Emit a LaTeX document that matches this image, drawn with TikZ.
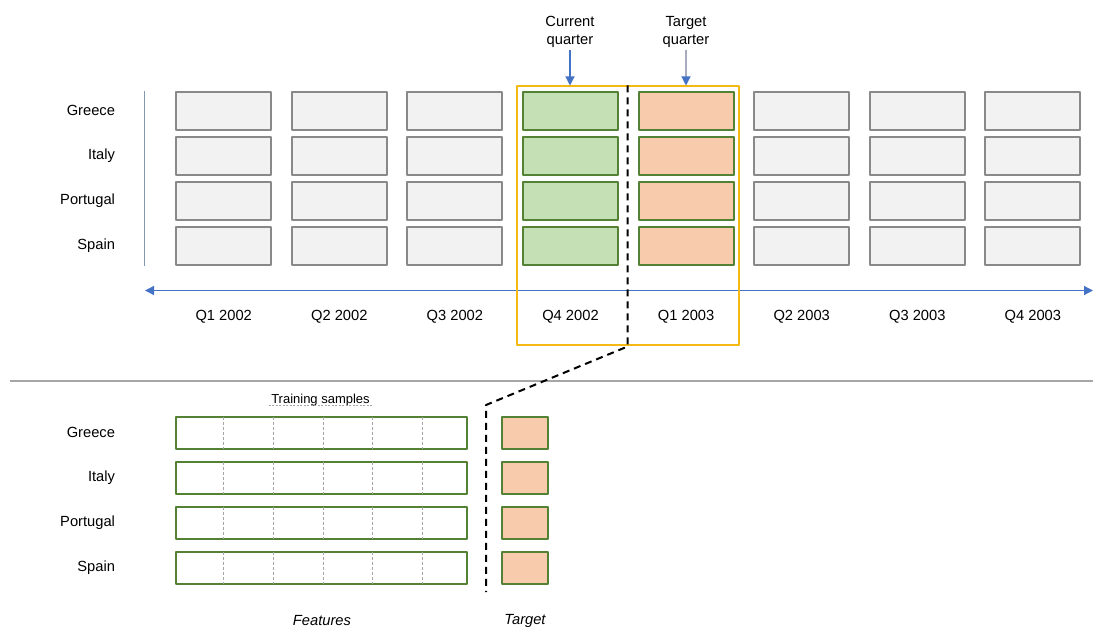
\documentclass[tikz,border=0pt]{standalone}
\usepackage{fontspec}
\setmainfont{Liberation Sans}
\usetikzlibrary{arrows.meta}
\definecolor{cellfill}{HTML}{F2F2F2}
\definecolor{cellgray}{HTML}{898989}
\definecolor{curfill}{HTML}{C5E0B4}
\definecolor{tgtfill}{HTML}{F8CBAD}
\definecolor{greenedge}{HTML}{548235}
\definecolor{winorange}{HTML}{F5B914}
\definecolor{axisblue}{HTML}{4472C4}
\definecolor{sepgray}{HTML}{A6A6A6}
\definecolor{vlinegray}{HTML}{8497B0}
\definecolor{shaftgray}{HTML}{A8ABBE}
\begin{document}
\begin{tikzpicture}[x=1pt, y=-1pt, font=\fontsize{14.7}{18.5}\selectfont, line join=round,
  cell/.style={draw=cellgray, fill=cellfill, line width=2pt, minimum width=95pt, minimum height=38.5pt, inner sep=0pt},
  curcell/.style={cell, draw=greenedge, fill=curfill},
  tgtcell/.style={cell, draw=greenedge, fill=tgtfill},
  featbox/.style={draw=greenedge, fill=white, line width=2pt, minimum width=291.6pt, minimum height=32.3pt, inner sep=0pt},
  tgtbox/.style={tgtcell, minimum width=46.3pt, minimum height=32.3pt},
  qarrow/.style={-{Triangle[width=9pt,length=9pt]}, line width=1.2pt},
  cut/.style={line width=2pt, dash pattern=on 7pt off 5pt}]
\useasboundingbox (0,0) rectangle (1093,628);
\def\dx{115.6} \def\dy{45}
\def\xa{223.7} \def\ya{110.9} \def\yb{432.9}
% row labels
\foreach \n [count=\i from 0] in {Greece,Italy,Portugal,Spain}{
  \node[anchor=east] (top-\i) at (118.5,\ya+\i*\dy) {\n};
  \node[anchor=east] (bot-\i) at (118.5,\yb+\i*\dy) {\n};
}
% quarters grid
\foreach \j in {0,1,2,5,6,7}
  \foreach \i in {0,...,3}
    \node[cell] (c-\j-\i) at (\xa+\j*\dx,\ya+\i*\dy) {};
\foreach \i in {0,...,3}{
  \node[curcell] (c-3-\i) at (\xa+3*\dx,\ya+\i*\dy) {};
  \node[tgtcell] (c-4-\i) at (\xa+4*\dx,\ya+\i*\dy) {};
}
\foreach \q [count=\j from 0] in {Q1 2002,Q2 2002,Q3 2002,Q4 2002,Q1 2003,Q2 2003,Q3 2003,Q4 2003}
  \node (q-\j) at (\xa+\j*\dx,317) {\q};
% axes
\coordinate (vt) at (144.3,91);
\coordinate (vb) at (144.3,266);
\draw[vlinegray, line width=1.2pt] (vt) -- (vb);
\coordinate (axl) at (145,290.5);
\coordinate (axr) at (1093,290.5);
\draw[axisblue, line width=1.2pt, {Triangle[width=9pt,length=9pt]}-{Triangle[width=9pt,length=9pt]}] (axl) -- (axr);
% window
\node[draw=winorange, line width=2pt, minimum width=222pt, minimum height=259pt, inner sep=0pt] (win) at (627.6,216) {};
\node[anchor=south, align=center, inner sep=2pt] (cur) at (570,50) {Current\\quarter};
\node[anchor=south, align=center, inner sep=2pt] (tgt) at (686,50) {Target\\quarter};
\draw[qarrow, axisblue] (cur.south) -- (cur.south |- win.north);
\draw[qarrow, shaftgray, -{Triangle[width=9pt,length=9pt,fill=axisblue,color=axisblue]}] (tgt.south) -- (tgt.south |- win.north);
% separator
\coordinate (sl) at (10,381);
\coordinate (sr) at (1093,381);
\draw[sepgray, line width=2pt] (sl) -- (sr);
% cut line
\coordinate (bend) at (486,405);
\coordinate (cutend) at (486,592);
\draw[cut] (win.north) -- (win.south) -- (bend) -- (cutend);
% training samples
\foreach \i in {0,...,3}{
  \node[featbox] (f-\i) at (321.5,\yb+\i*\dy) {};
  \foreach \k in {0,...,4}
    \draw[sepgray, line width=0.8pt, dash pattern=on 3pt off 2pt] (223.4+\k*49.8,\yb+\i*\dy-16.2) -- (223.4+\k*49.8,\yb+\i*\dy+16.2);
  \node[tgtbox] (t-\i) at (525.2,\yb+\i*\dy) {};
}
\node[anchor=base, font=\fontsize{13}{15}\selectfont, inner xsep=2.5pt] (train) at (320.5,403.3) {Training samples};
\draw[sepgray, line width=1pt, dash pattern=on 2pt off 1.5pt] ([yshift=-2.4pt]train.base west) -- ([yshift=-2.4pt]train.base east);
\node[font=\fontsize{14.7}{17.7}\itshape] (feat) at (322,621) {Features};
\node[font=\fontsize{14.7}{17.7}\itshape] (targ) at (525,621) {Target};
\end{tikzpicture}
\end{document}
